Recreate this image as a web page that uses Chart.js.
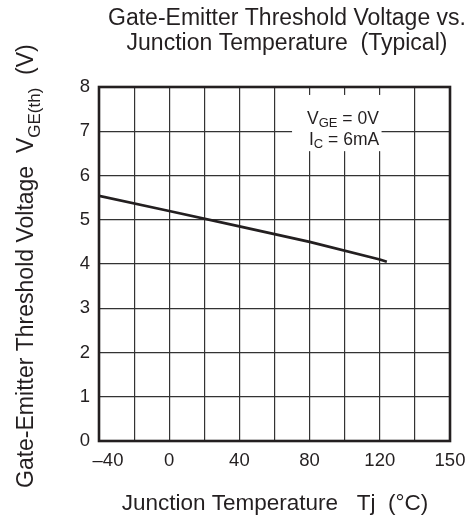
<!DOCTYPE html>
<html>
<head>
<meta charset="utf-8">
<script src="https://cdn.jsdelivr.net/npm/chart.js@4/dist/chart.umd.min.js"></script>
<style>
  html, body { margin: 0; padding: 0; background: #fff; }
  #wrap { width: 466px; height: 520px; position: relative; }
</style>
</head>
<body>
<div id="wrap"><canvas id="vthChart" width="466" height="520"></canvas></div>
<script>
// curve (Tj in grid units, VGE(th) in volts)
const temps = [-40, 0, 40, 80, 120, 124];
const vth = [5.54, 5.2, 4.85, 4.5, 4.1, 4.05];

// the grid has 10 equal columns, last one is labelled 150
const xGrid = [-40, -20, 0, 20, 40, 60, 80, 100, 120, 140, 160];
const xLabels = { '0': '0', '40': '40', '80': '80', '120': '120', '160': '150' };
const firstLabel = '\u201340'; // drawn a bit inside the frame, as in the original
const yTicks = [0, 1, 2, 3, 4, 5, 6, 7, 8];

const FONT = '"Liberation Sans", Arial, Helvetica, sans-serif';
const INK = '#231f20';
const TICK_SIZE = 18.5;

const ctx = document.getElementById('vthChart').getContext('2d');

// draws texts with subscripts, the note box and the frame
const extras = {
    id: 'extras',
    beforeDatasetsDraw(chart) {
        const c = chart.ctx;
        const xs = chart.scales.x, ys = chart.scales.y;
        // white box behind the test conditions
        c.save();
        c.fillStyle = '#fff';
        c.fillRect(xs.getPixelForValue(70), ys.getPixelForValue(7.82), xs.getPixelForValue(121) - xs.getPixelForValue(70), ys.getPixelForValue(6.55) - ys.getPixelForValue(7.82));
        c.restore();
    },
    afterDraw(chart) {
        const c = chart.ctx;
        const a = chart.chartArea;
        c.save();
        c.fillStyle = INK;

        // titles
        c.textAlign = 'center';
        c.textBaseline = 'alphabetic';
        c.font = '23px ' + FONT;
        c.fillText('Gate-Emitter Threshold Voltage vs.', 287, 25);
        c.fillText('Junction Temperature  (Typical)', 287, 50);
        c.font = '22.5px ' + FONT;
        c.fillText('Junction Temperature   Tj  (\u00b0C)', 275, 510);

        // first x label, same line as the library's tick labels
        c.font = TICK_SIZE + 'px ' + FONT;
        c.textBaseline = 'middle';
        c.fillText(firstLabel, chart.scales.x.getPixelForValue(-40) + 9, a.bottom + 9 + TICK_SIZE * 1.2 / 2);
        c.textBaseline = 'alphabetic';

        // test conditions
        c.textAlign = 'left';
        const note = (x, y, big, sub, rest) => {
            c.font = '17.5px ' + FONT;
            c.fillText(big, x, y);
            let w = c.measureText(big).width;
            c.font = '13px ' + FONT;
            c.fillText(sub, x + w, y + 3);
            w += c.measureText(sub).width;
            c.font = '17.5px ' + FONT;
            c.fillText(rest, x + w, y);
        };
        note(307, 124, 'V', 'GE', ' = 0V');
        note(309, 145, 'I', 'C', ' = 6mA');

        // y axis title, rotated, starting from the bottom
        c.translate(33, 488);
        c.rotate(-Math.PI / 2);
        const parts = [
            ['Gate-Emitter Threshold Voltage  V', '23px', 0],
            ['GE(th)', '17px', 7],
            ['  (V)', '23px', 0]
        ];
        let x = 0;
        parts.forEach(p => {
            c.font = p[1] + ' ' + FONT;
            c.fillText(p[0], x, p[2]);
            x += c.measureText(p[0]).width;
        });
        c.restore();

        // heavy frame round the plot
        c.save();
        c.strokeStyle = INK;
        c.lineWidth = 2.6;
        c.strokeRect(a.left, a.top, a.right - a.left, a.bottom - a.top);
        c.restore();
    }
};

const chart = new Chart(ctx, {
    type: 'scatter',
    data: {
        datasets: [{
            data: temps.map((t, i) => ({ x: t, y: vth[i] })),
            showLine: true,
            borderColor: INK,
            borderWidth: 2.6,
            pointRadius: 0,
            tension: 0
        }]
    },
    options: {
        responsive: false,
        animation: false,
        layout: { padding: { left: 0, top: 87, right: 16, bottom: 0 } },
        plugins: { legend: { display: false }, tooltip: { enabled: false } },
        scales: {
            x: {
                type: 'linear',
                min: -40,
                max: 160,
                afterBuildTicks: s => { s.ticks = xGrid.map(v => ({ value: v })); },
                afterFit: s => { s.height = 79; s.paddingLeft = 0; s.paddingRight = 0; },
                grid: { color: '#333', lineWidth: 1.2, drawTicks: false },
                border: { display: false },
                ticks: {
                    autoSkip: false,
                    maxRotation: 0,
                    padding: 9,
                    color: INK,
                    font: { family: FONT, size: TICK_SIZE },
                    callback: v => xLabels[String(v)] || ''
                }
            },
            y: {
                min: 0,
                max: 8,
                afterBuildTicks: s => { s.ticks = yTicks.map(v => ({ value: v })); },
                afterFit: s => { s.width = 99; },
                grid: { color: '#333', lineWidth: 1.2, drawTicks: false },
                border: { display: false },
                ticks: {
                    padding: 9,
                    color: INK,
                    font: { family: FONT, size: TICK_SIZE }
                }
            }
        }
    },
    plugins: [extras]
});
</script>
</body>
</html>
